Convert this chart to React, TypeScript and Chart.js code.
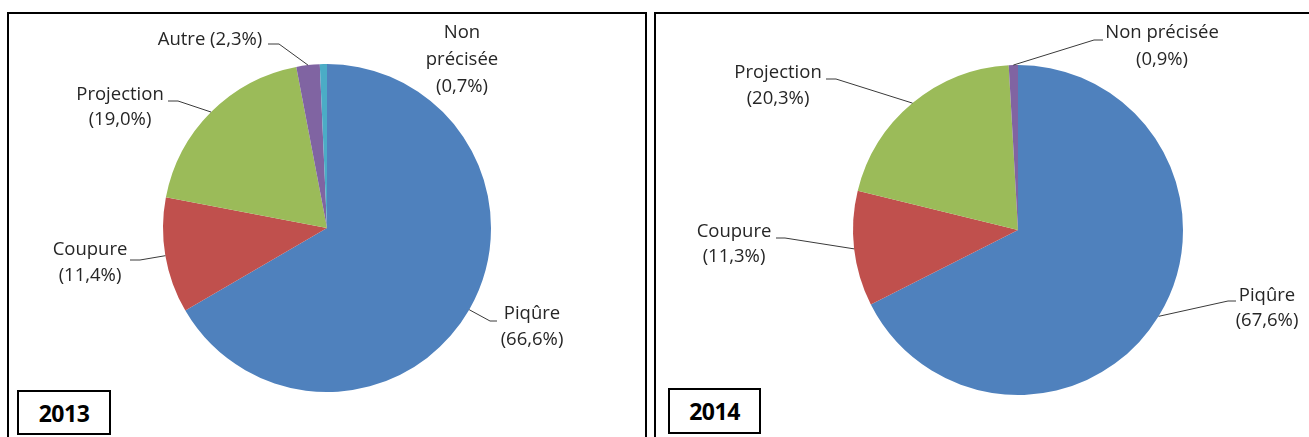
import React, { useEffect, useRef } from "react";
import { Chart, registerables } from "chart.js";

Chart.register(...registerables);

const categories2013 = ["Piqûre", "Coupure", "Projection", "Autre", "Non précisée"];
const values2013 = [66.6, 11.4, 19.0, 2.3, 0.7];
const labels2013 = ["Piqûre (66,6%)", "Coupure (11,4%)", "Projection (19,0%)", "Autre (2,3%)", "Non précisée (0,7%)"];
const colors2013 = ["#4F81BD", "#C0504D", "#9BBB59", "#8064A2", "#4BACC6"];

const categories2014 = ["Piqûre", "Coupure", "Projection", "Non précisée"];
const values2014 = [67.6, 11.3, 20.3, 0.9];
const labels2014 = ["Piqûre (67,6%)", "Coupure (11,3%)", "Projection (20,3%)", "Non précisée (0,9%)"];
const colors2014 = ["#4F81BD", "#C0504D", "#9BBB59", "#8064A2"];

const W = 1309;
const H = 437;
const FONT = "18.5px 'Open Sans'";
const TEXT_COLOR = "#262626";
const LINE_COLOR = "#3a3a3a";

type LabelSpec = {
  lines: string[];
  cx: number; // center x of text block
  y: number; // center y of first line
  lh: number;
  leader?: { from: [number, number]; elbow: [number, number] };
};

// label placement (page coordinates), index-aligned with the data
const layout2013: LabelSpec[] = [
  { lines: ["Piqûre", "(66,6%)"], cx: 532, y: 314, lh: 26, leader: { from: [497, 321], elbow: [490, 321] } },
  { lines: ["Coupure", "(11,4%)"], cx: 90, y: 250, lh: 26, leader: { from: [130, 260], elbow: [140, 260] } },
  { lines: ["Projection", "(19,0%)"], cx: 120, y: 95, lh: 25, leader: { from: [168, 101], elbow: [178, 101] } },
  { lines: ["Autre (2,3%)"], cx: 210, y: 40, lh: 26, leader: { from: [268, 44], elbow: [279, 44] } },
  { lines: ["Non", "précisée", "(0,7%)"], cx: 462, y: 33, lh: 27 },
];

const layout2014: LabelSpec[] = [
  { lines: ["Piqûre", "(67,6%)"], cx: 1267, y: 296, lh: 25, leader: { from: [1236, 301], elbow: [1228, 301] } },
  { lines: ["Coupure", "(11,3%)"], cx: 734, y: 232, lh: 25, leader: { from: [776, 238], elbow: [785, 238] } },
  { lines: ["Projection", "(20,3%)"], cx: 778, y: 73, lh: 26, leader: { from: [826, 79], elbow: [836, 79] } },
  { lines: ["Non précisée", "(0,9%)"], cx: 1162, y: 33, lh: 27, leader: { from: [1103, 40], elbow: [1094, 40] } },
];

function makeLabelPlugin(layout: LabelSpec[]) {
  return {
    id: "pieLabels",
    afterDatasetsDraw(chart: any) {
      const ctx = chart.ctx as CanvasRenderingContext2D;
      const meta = chart.getDatasetMeta(0);
      ctx.save();
      meta.data.forEach((arc: any, i: number) => {
        const spec = layout[i];
        if (!spec) return;
        const mid = (arc.startAngle + arc.endAngle) / 2;
        const px = arc.x + Math.cos(mid) * arc.outerRadius;
        const py = arc.y + Math.sin(mid) * arc.outerRadius;
        if (spec.leader) {
          ctx.strokeStyle = LINE_COLOR;
          ctx.lineWidth = 1;
          ctx.beginPath();
          ctx.moveTo(spec.leader.from[0], spec.leader.from[1]);
          ctx.lineTo(spec.leader.elbow[0], spec.leader.elbow[1]);
          ctx.lineTo(px, py);
          ctx.stroke();
        }
        ctx.fillStyle = TEXT_COLOR;
        ctx.font = FONT;
        ctx.textAlign = "center";
        ctx.textBaseline = "middle";
        spec.lines.forEach((line, k) => {
          ctx.fillText(line, spec.cx, spec.y + k * spec.lh);
        });
      });
      ctx.restore();
    },
  };
}

function PieCanvas(props: {
  cats: string[];
  values: number[];
  colors: string[];
  layout: LabelSpec[];
  padding: { left: number; right: number; top: number; bottom: number };
}) {
  const ref = useRef<HTMLCanvasElement | null>(null);
  useEffect(() => {
    if (!ref.current) return;
    const chart = new Chart(ref.current, {
      type: "pie",
      data: {
        labels: props.cats,
        datasets: [
          {
            data: props.values,
            backgroundColor: props.colors,
            borderWidth: 0,
            hoverOffset: 0,
          },
        ],
      },
      options: {
        animation: false,
        responsive: false,
        maintainAspectRatio: false,
        rotation: 0,
        layout: { padding: props.padding },
        plugins: {
          legend: { display: false },
          tooltip: { enabled: false },
        },
        events: [],
      },
      plugins: [makeLabelPlugin(props.layout)],
    });
    return () => chart.destroy();
  }, []);
  return (
    <canvas
      ref={ref}
      width={W}
      height={H}
      style={{ position: "absolute", left: 0, top: 0, width: W, height: H }}
    />
  );
}

const yearBox: React.CSSProperties = {
  position: "absolute",
  border: "2px solid #000",
  boxSizing: "border-box",
  background: "#fff",
  font: "bold 23px 'Open Sans'",
  color: "#000",
  display: "flex",
  alignItems: "center",
  justifyContent: "center",
  letterSpacing: "-0.5px",
};

export default function App() {
  return (
    <div
      style={{
        position: "fixed",
        left: 0,
        top: 0,
        width: W,
        height: H,
        background: "#fff",
        overflow: "hidden",
      }}
    >
      <div
        style={{
          position: "absolute",
          left: 7,
          top: 12,
          width: 640,
          height: 460,
          border: "2px solid #000",
          boxSizing: "border-box",
        }}
      />
      <div
        style={{
          position: "absolute",
          left: 654,
          top: 12,
          width: 700,
          height: 460,
          border: "2px solid #000",
          boxSizing: "border-box",
        }}
      />
      <div style={{ ...yearBox, left: 17, top: 390, width: 94, height: 45 }}>2013</div>
      <div style={{ ...yearBox, left: 668, top: 388, width: 93, height: 46 }}>2014</div>
      <PieCanvas
        cats={categories2013}
        values={values2013}
        colors={colors2013}
        layout={layout2013}
        padding={{ left: 163, right: W - 491, top: 64, bottom: H - 392 }}
      />
      <PieCanvas
        cats={categories2014}
        values={values2014}
        colors={colors2014}
        layout={layout2014}
        padding={{ left: 853, right: W - 1183, top: 65, bottom: H - 395 }}
      />
    </div>
  );
}
